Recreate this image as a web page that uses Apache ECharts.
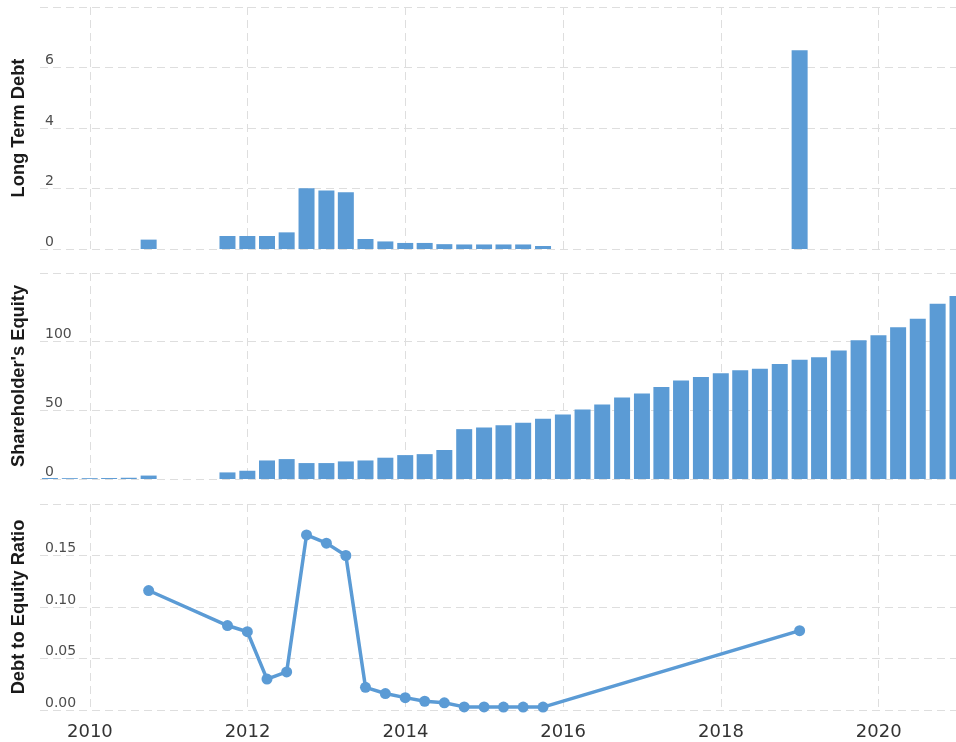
<!DOCTYPE html>
<html>
<head>
<meta charset="utf-8">
<script src="https://cdn.jsdelivr.net/npm/echarts@6/dist/echarts.min.js"></script>
<style>
  html, body { margin: 0; padding: 0; background: #ffffff; }
  #chart { width: 956px; height: 742px; }
</style>
</head>
<body>
<div id="chart"></div>
<script>
// ---- Data ----
const yearTicks = ['2010-01-01', '2012-01-01', '2014-01-01', '2016-01-01', '2018-01-01', '2020-01-01'];

const debtDates = ['2010-09-30', '2011-09-30', '2011-12-31', '2012-03-31', '2012-06-30', '2012-09-30',
  '2012-12-31', '2013-03-31', '2013-06-30', '2013-09-30', '2013-12-31', '2014-03-31', '2014-06-30',
  '2014-09-30', '2014-12-31', '2015-03-31', '2015-06-30', '2015-09-30', '2018-12-31'];
const longTermDebt = [0.31, 0.43, 0.43, 0.43, 0.55, 2.01, 1.93, 1.88, 0.33, 0.25, 0.2, 0.2, 0.16,
  0.15, 0.15, 0.15, 0.15, 0.1, 6.57];
const debtToEquity = [0.116, 0.082, 0.076, 0.030, 0.037, 0.170, 0.162, 0.150, 0.022, 0.016, 0.012, 0.0085, 0.007,
  0.003, 0.003, 0.0028, 0.0028, 0.0028, 0.077];

const equityDates = ['2009-06-30', '2009-09-30', '2009-12-31', '2010-03-31', '2010-06-30', '2010-09-30',
  '2011-09-30', '2011-12-31',
  '2012-03-31', '2012-06-30', '2012-09-30', '2012-12-31',
  '2013-03-31', '2013-06-30', '2013-09-30', '2013-12-31',
  '2014-03-31', '2014-06-30', '2014-09-30', '2014-12-31',
  '2015-03-31', '2015-06-30', '2015-09-30', '2015-12-31',
  '2016-03-31', '2016-06-30', '2016-09-30', '2016-12-31',
  '2017-03-31', '2017-06-30', '2017-09-30', '2017-12-31',
  '2018-03-31', '2018-06-30', '2018-09-30', '2018-12-31',
  '2019-03-31', '2019-06-30', '2019-09-30', '2019-12-31',
  '2020-03-31', '2020-06-30', '2020-09-30', '2020-12-31'];
const shareholdersEquity = [0.7, 0.6, 0.6, 0.7, 0.9, 2.5,
  4.8, 6.0,
  13.5, 14.5, 11.6, 11.6,
  12.8, 13.5, 15.5, 17.4,
  18.1, 21.1, 36.3, 37.5,
  39.2, 40.9, 43.8, 47.0,
  50.6, 54.2, 59.3, 62.2,
  66.9, 71.7, 74.3, 77.0,
  79.2, 80.2, 83.8, 86.9,
  88.7, 93.5, 101.0, 104.7,
  110.5, 116.7, 127.6, 133.2];

const panelNames = ['Long Term Debt', "Shareholder's Equity", 'Debt to Equity Ratio'];

// ---- Chart ----
const BLUE = '#5b9bd5';
const xMin = Date.parse('2009-05-15');
const xMax = Date.parse('2020-12-24');
const tickValues = yearTicks.map(d => Date.parse(d));
const gridLineStyle = { color: '#dedede', type: [8, 5], width: 1 };

function pairs(dates, values) {
  return dates.map((d, i) => [Date.parse(d), values[i]]);
}

function makeX(gridIndex, showLabels) {
  return {
    type: 'value', gridIndex: gridIndex, min: xMin, max: xMax,
    axisLine: { show: false },
    axisTick: { show: false, customValues: tickValues },
    splitLine: { show: true, lineStyle: gridLineStyle },
    axisLabel: {
      show: showLabels, customValues: tickValues,
      formatter: function (v) { return String(new Date(v).getUTCFullYear()); },
      fontFamily: 'DejaVu Sans', fontSize: 18, color: '#333', margin: 13
    }
  };
}

function makeY(gridIndex, max, interval, decimals, name) {
  return {
    type: 'value', gridIndex: gridIndex, min: 0, max: max, interval: interval,
    name: name, nameLocation: 'middle', nameGap: 12, nameRotate: 90,
    nameTextStyle: { fontFamily: 'Liberation Sans', fontWeight: 'bold', fontSize: 18.3, color: '#1a1a1a' },
    axisLine: { show: false }, axisTick: { show: false },
    splitLine: { show: true, lineStyle: gridLineStyle },
    axisLabel: {
      inside: true, showMaxLabel: false, align: 'left', verticalAlign: 'bottom', margin: 5,
      fontFamily: 'DejaVu Sans', fontSize: 14, color: '#4d4d4d',
      formatter: function (v) { return v.toFixed(decimals); }
    }
  };
}

const gridBase = { left: 40, right: 0, containLabel: false, outerBoundsMode: 'none' };

const chart = echarts.init(document.getElementById('chart'), null, { renderer: 'canvas' });
chart.setOption({
  animation: false,
  backgroundColor: '#ffffff',
  grid: [
    Object.assign({ top: 7, height: 242 }, gridBase),
    Object.assign({ top: 273, height: 206 }, gridBase),
    Object.assign({ top: 504, height: 206 }, gridBase)
  ],
  xAxis: [makeX(0, false), makeX(1, false), makeX(2, true)],
  yAxis: [
    makeY(0, 8, 2, 0, panelNames[0]),
    makeY(1, 150, 50, 0, panelNames[1]),
    makeY(2, 0.2, 0.05, 2, panelNames[2])
  ],
  series: [
    {
      type: 'bar', xAxisIndex: 0, yAxisIndex: 0, barWidth: 16,
      itemStyle: { color: BLUE },
      data: pairs(debtDates, longTermDebt)
    },
    {
      type: 'bar', xAxisIndex: 1, yAxisIndex: 1, barWidth: 16,
      itemStyle: { color: BLUE },
      data: pairs(equityDates, shareholdersEquity)
    },
    {
      type: 'line', xAxisIndex: 2, yAxisIndex: 2,
      symbol: 'circle', symbolSize: 11, showAllSymbol: true,
      lineStyle: { color: BLUE, width: 3.5 },
      itemStyle: { color: BLUE },
      data: pairs(debtDates, debtToEquity)
    }
  ]
});
</script>
</body>
</html>
